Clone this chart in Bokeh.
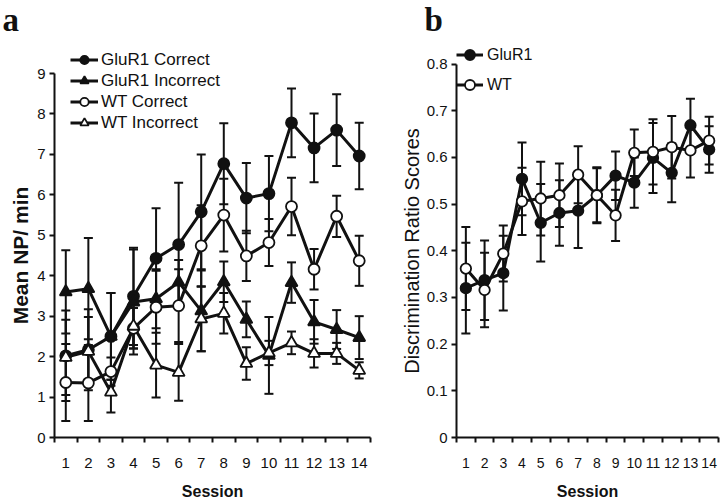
from bokeh.plotting import figure
from bokeh.layouts import row
from bokeh.models import (Range1d, FixedTicker, Whisker, TeeHead, ColumnDataSource,
                          Legend, LegendItem, Label, LinearAxis)
from bokeh.embed import file_html
from bokeh.resources import INLINE

# ---------------- data ----------------
sessions = list(range(1, 15))

# Panel a: Mean NP / min
glur1_correct = [2.02, 2.17, 2.50, 3.49, 4.43, 4.77, 5.58, 6.77, 5.92, 6.03, 7.78, 7.16, 7.60, 6.96]
glur1_correct_sem = [1.12, 1.00, 1.07, 1.20, 1.24, 1.53, 1.42, 1.00, 0.87, 0.93, 0.85, 0.85, 0.89, 0.82]
glur1_incorrect = [3.60, 3.68, 2.50, 3.35, 3.43, 3.84, 3.13, 3.85, 2.92, 2.03, 3.83, 2.86, 2.67, 2.47]
glur1_incorrect_sem = [1.03, 1.25, 1.07, 1.30, 0.73, 0.55, 1.00, 0.50, 0.44, 0.95, 0.50, 0.54, 0.48, 0.53]
wt_correct = [1.36, 1.35, 1.63, 2.70, 3.22, 3.26, 4.74, 5.50, 4.49, 4.82, 5.71, 4.16, 5.47, 4.37]
wt_correct_sem = [0.95, 0.94, 0.35, 0.50, 0.90, 0.90, 1.00, 0.90, 0.62, 0.58, 0.71, 0.50, 0.51, 0.62]
wt_incorrect = [1.98, 2.13, 1.12, 2.75, 1.79, 1.61, 2.93, 3.07, 1.83, 2.09, 2.34, 2.08, 2.08, 1.66]
wt_incorrect_sem = [0.93, 0.85, 0.50, 0.55, 0.80, 0.70, 0.80, 0.50, 0.40, 0.30, 0.28, 0.35, 0.26, 0.20]

# Panel b: Discrimination ratio scores
glur1_ratio = [0.320, 0.337, 0.352, 0.554, 0.460, 0.481, 0.486, 0.519, 0.561, 0.546, 0.599, 0.567, 0.669, 0.617]
glur1_ratio_sem = [0.097, 0.085, 0.080, 0.078, 0.083, 0.070, 0.080, 0.060, 0.052, 0.054, 0.075, 0.063, 0.057, 0.050]
wt_ratio = [0.362, 0.316, 0.394, 0.506, 0.512, 0.519, 0.563, 0.519, 0.476, 0.610, 0.612, 0.622, 0.615, 0.636]
wt_ratio_sem = [0.089, 0.080, 0.060, 0.072, 0.079, 0.068, 0.061, 0.058, 0.055, 0.050, 0.070, 0.067, 0.058, 0.051]

a_ticks = [0, 1, 2, 3, 4, 5, 6, 7, 8, 9]
b_ticks = [0, 0.1, 0.2, 0.3, 0.4, 0.5, 0.6, 0.7, 0.8]
b_tick_labels = ["0", "0.1", "0.2", "0.3", "0.4", "0.5", "0.6", "0.7", "0.8"]

a_names = ["GluR1 Correct", "GluR1 Incorrect", "WT Correct", "WT Incorrect"]
b_names = ["GluR1", "WT"]

FONT = "Liberation Sans"
BLACK = "#111111"
FIG_H = 502          # figure height
FIG_TOP = 0          # figure top as seen in the picture


def ranges_for(fig_left, fig_w, plot_left, plot_right, x0, x1,
               plot_top, plot_bottom, y0, y1):
    """Extend data ranges so that [x0,x1]x[y0,y1] lands on the given pixels
    while the frame covers the whole figure (axes are drawn at fixed locations)."""
    sx = (x1 - x0) / (plot_right - plot_left)
    sy = (y1 - y0) / (plot_bottom - plot_top)
    xr = Range1d(x0 - (plot_left - fig_left) * sx, x1 + (fig_left + fig_w - plot_right) * sx)
    yr = Range1d(y0 - (FIG_TOP + FIG_H - plot_bottom) * sy, y1 + (plot_top - FIG_TOP) * sy)
    return xr, yr


def make_fig(width, xr, yr):
    p = figure(width=width, height=FIG_H, x_range=xr, y_range=yr,
               x_axis_location=None, y_axis_location=None,
               output_backend="svg", toolbar_location=None,
               min_border=0, min_border_left=0, min_border_right=0,
               min_border_top=0, min_border_bottom=0)
    p.outline_line_color = None
    p.grid.visible = False
    p.background_fill_color = "white"
    p.border_fill_color = "white"
    return p


def add_axes(p, y_top, yticks, ylabel, ylabel_size, ylabel_style, xtick_size, ylabel_standoff,
             overrides=None):
    xa = LinearAxis(fixed_location=0, bounds=(0.5, 14.5))
    xa.ticker = FixedTicker(ticks=sessions,
                            minor_ticks=[s - 0.5 for s in sessions] + [sessions[-1] + 0.5])
    xa.major_tick_out = 0
    xa.major_tick_in = 0
    xa.minor_tick_out = 5
    xa.minor_tick_in = 0
    xa.minor_tick_line_width = 2
    xa.minor_tick_line_color = BLACK
    xa.axis_line_width = 2
    xa.axis_line_color = BLACK
    xa.major_label_text_font = FONT
    xa.major_label_text_font_size = xtick_size
    xa.major_label_text_color = BLACK
    xa.major_label_standoff = 15
    xa.axis_label = "Session"
    xa.axis_label_text_font = FONT
    xa.axis_label_text_font_style = "bold"
    xa.axis_label_text_font_size = "16px"
    xa.axis_label_text_color = BLACK
    xa.axis_label_standoff = 12
    p.add_layout(xa, "below")

    ya = LinearAxis(fixed_location=0.5, bounds=(0, y_top))
    ya.ticker = FixedTicker(ticks=yticks)
    ya.major_tick_out = 5
    ya.major_tick_in = 0
    ya.major_tick_line_width = 2
    ya.major_tick_line_color = BLACK
    ya.minor_tick_line_color = None
    ya.axis_line_width = 2
    ya.axis_line_color = BLACK
    ya.major_label_text_font = FONT
    ya.major_label_text_font_size = "15px"
    ya.major_label_text_color = BLACK
    ya.major_label_standoff = 4
    if overrides:
        ya.major_label_overrides = overrides
    ya.axis_label = ylabel
    ya.axis_label_text_font = FONT
    ya.axis_label_text_font_style = ylabel_style
    ya.axis_label_text_font_size = ylabel_size
    ya.axis_label_text_color = BLACK
    ya.axis_label_standoff = ylabel_standoff
    p.add_layout(ya, "left")


def add_series(p, means, sems):
    src = ColumnDataSource(dict(x=sessions, y=means,
                                upper=[m + s for m, s in zip(means, sems)],
                                lower=[m - s for m, s in zip(means, sems)]))
    p.add_layout(Whisker(base="x", upper="upper", lower="lower", source=src,
                         line_width=2, line_color=BLACK,
                         upper_head=TeeHead(size=9, line_width=2, line_color=BLACK),
                         lower_head=TeeHead(size=9, line_width=2, line_color=BLACK)))
    return src


def draw_lines_markers(p, srcs, specs):
    lines = [p.line("x", "y", source=src, line_width=3, line_color=BLACK) for src in srcs]
    marks = []
    for src, (marker, filled, msize) in zip(srcs, specs):
        marks.append(p.scatter("x", "y", source=src, marker=marker, size=msize,
                               fill_color=BLACK if filled else "white",
                               line_color=BLACK, line_width=1.8))
    return lines, marks


def panel_letter(p, fig_left, page_x, text):
    p.add_layout(Label(x=page_x - fig_left, y=FIG_TOP + FIG_H - 1, x_units="screen", y_units="screen",
                       text=text, text_baseline="top",
                       text_font="Liberation Serif", text_font_style="bold", text_font_size="33px",
                       text_color=BLACK))


# ---------------- panel a ----------------
A_LEFT, A_W = 0, 400
xr_a, yr_a = ranges_for(A_LEFT, A_W, 54, 370, 0.5, 14.5, 73, 437, 0, 9)
pa = make_fig(A_W, xr_a, yr_a)
add_axes(pa, 9, a_ticks, "Mean NP/ min", "21px", "bold", "15px", 2)

a_series = [(glur1_correct, glur1_correct_sem), (glur1_incorrect, glur1_incorrect_sem),
            (wt_correct, wt_correct_sem), (wt_incorrect, wt_incorrect_sem)]
a_specs = [("circle", True, 11), ("triangle", True, 12), ("circle", False, 11), ("triangle", False, 12)]
a_srcs = [add_series(pa, m, s) for m, s in a_series]
a_lines, a_marks = draw_lines_markers(pa, a_srcs, a_specs)

leg_a = Legend(items=[LegendItem(label=n, renderers=[l, m]) for n, l, m in zip(a_names, a_lines, a_marks)],
               location=(70 - A_LEFT, FIG_TOP + FIG_H - 133), padding=0, margin=0, spacing=0,
               glyph_width=28, glyph_height=21, label_height=21, label_standoff=3,
               label_text_font=FONT, label_text_font_size="17px", label_text_color=BLACK,
               background_fill_alpha=0, border_line_color=None)
pa.add_layout(leg_a)
panel_letter(pa, A_LEFT, 2, "a")

# ---------------- panel b ----------------
B_LEFT, B_W = 400, 320
xr_b, yr_b = ranges_for(B_LEFT, B_W, 456, 718, 0.5, 14.5, 63.6, 437, 0, 0.8)
pb = make_fig(B_W, xr_b, yr_b)
add_axes(pb, 0.8, b_ticks, "Discrimination Ratio Scores", "20px", "normal", "14px", 1,
         overrides={t: lab for t, lab in zip(b_ticks, b_tick_labels)})

b_series = [(glur1_ratio, glur1_ratio_sem), (wt_ratio, wt_ratio_sem)]
b_specs = [("circle", True, 10.5), ("circle", False, 10.5)]
b_srcs = [add_series(pb, m, s) for m, s in b_series]
b_lines, b_marks = draw_lines_markers(pb, b_srcs, b_specs)

leg_b = Legend(items=[LegendItem(label=n, renderers=[l, m]) for n, l, m in zip(b_names, b_lines, b_marks)],
               location=(456 - B_LEFT, FIG_TOP + FIG_H - 97), padding=0, margin=0, spacing=5,
               glyph_width=27, glyph_height=25, label_height=25, label_standoff=4,
               label_text_font=FONT, label_text_font_size="16px", label_text_color=BLACK,
               background_fill_alpha=0, border_line_color=None)
pb.add_layout(leg_b)
panel_letter(pb, B_LEFT, 424, "b")

layout = row(pa, pb)
open("out.html", "w").write(file_html(layout, INLINE))
